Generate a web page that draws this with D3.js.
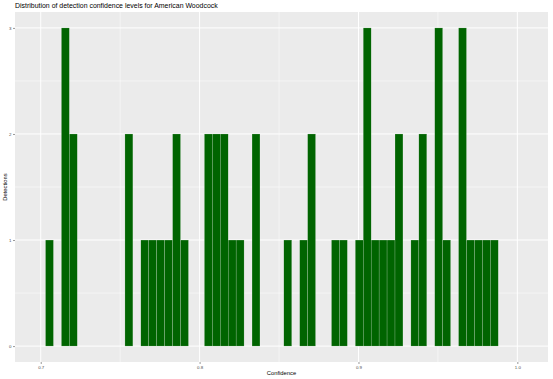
<!DOCTYPE html>
<html>
<head>
<meta charset="utf-8">
<script src="https://cdn.jsdelivr.net/npm/d3@7/dist/d3.min.js"></script>
<style>
html,body{margin:0;padding:0;background:#fff;}
svg{display:block;font-family:"Liberation Sans",Arial,sans-serif;}
</style>
</head>
<body>
<svg id="chart" width="553" height="379"></svg>
<script>
const binStarts = [0.703,0.713,0.718,0.753,0.763,0.768,0.773,0.778,0.783,0.788,
  0.803,0.808,0.813,0.818,0.823,0.833,0.853,0.863,0.868,0.883,0.888,
  0.898,0.903,0.908,0.913,0.918,0.923,0.933,0.938,0.948,0.953,
  0.963,0.968,0.973,0.978,0.983];
const counts = [1,3,2,2,1,1,1,1,2,1,
  2,2,2,1,1,2,1,1,2,1,1,
  1,3,1,1,1,2,1,2,3,1,
  3,1,1,1,1];
const binWidth = 0.005;
const xTicks = [0.7, 0.8, 0.9, 1.0];
const xMinor = [0.75, 0.85, 0.95];
const yTicks = [0, 1, 2, 3];
const yMinor = [0.5, 1.5, 2.5];
const titleText = "Distribution of detection confidence levels for American Woodcock";
const xTitle = "Confidence";
const yTitle = "Detections";

const svg = d3.select("#chart");
const panel = {left: 15, top: 12, right: 548, bottom: 362};

const x = d3.scaleLinear().domain([0.6838, 1.0193]).range([panel.left, panel.right]);
const y = d3.scaleLinear().domain([-0.15, 3.15]).range([panel.bottom, panel.top]);

svg.append("rect").attr("x", panel.left).attr("y", panel.top)
  .attr("width", panel.right - panel.left).attr("height", panel.bottom - panel.top)
  .attr("fill", "#EBEBEB");

const grid = svg.append("g");
grid.selectAll(".xm").data(xMinor).join("line")
  .attr("x1", d => x(d)).attr("x2", d => x(d)).attr("y1", panel.top).attr("y2", panel.bottom)
  .attr("stroke", "#fff").attr("stroke-width", 0.5);
grid.selectAll(".ym").data(yMinor).join("line")
  .attr("y1", d => y(d)).attr("y2", d => y(d)).attr("x1", panel.left).attr("x2", panel.right)
  .attr("stroke", "#fff").attr("stroke-width", 0.5);
grid.selectAll(".xM").data(xTicks).join("line")
  .attr("x1", d => x(d)).attr("x2", d => x(d)).attr("y1", panel.top).attr("y2", panel.bottom)
  .attr("stroke", "#fff").attr("stroke-width", 1);
grid.selectAll(".yM").data(yTicks).join("line")
  .attr("y1", d => y(d)).attr("y2", d => y(d)).attr("x1", panel.left).attr("x2", panel.right)
  .attr("stroke", "#fff").attr("stroke-width", 1);

const bins = binStarts.map((s, i) => ({x0: s, x1: s + binWidth, n: counts[i]}));
svg.append("g").selectAll("rect").data(bins).join("rect")
  .attr("x", d => x(d.x0)).attr("width", d => x(d.x1) - x(d.x0))
  .attr("y", d => y(d.n)).attr("height", d => y(0) - y(d.n))
  .attr("fill", "#006400").attr("stroke", "#ffffff").attr("stroke-opacity", 0.45)
  .attr("stroke-width", 0.4);

const xAxis = svg.append("g").attr("transform", `translate(0,${panel.bottom})`)
  .call(d3.axisBottom(x).tickValues(xTicks).tickFormat(d3.format(".1f")).tickSize(2).tickPadding(1.5));
const yAxis = svg.append("g").attr("transform", `translate(${panel.left},0)`)
  .call(d3.axisLeft(y).tickValues(yTicks).tickFormat(d3.format("d")).tickSize(2).tickPadding(1.5));
[xAxis, yAxis].forEach(a => {
  a.select(".domain").remove();
  a.selectAll(".tick line").attr("stroke", "#333").attr("stroke-width", 0.5);
  a.selectAll(".tick text").attr("fill", "#4d4d4d").style("font-size", "4.4px")
    .style("font-family", "'Liberation Sans', Arial, sans-serif");
});

svg.append("text").attr("x", (panel.left + panel.right) / 2).attr("y", 374.5)
  .attr("text-anchor", "middle").style("font-size", "5.8px").attr("fill", "#000").text(xTitle);
svg.append("text").attr("transform", `translate(6.5,${(panel.top + panel.bottom) / 2}) rotate(-90)`)
  .attr("text-anchor", "middle").style("font-size", "5.8px").attr("fill", "#000").text(yTitle);
svg.append("text").attr("x", panel.left).attr("y", 8.2)
  .style("font-size", "6.95px").attr("fill", "#000").text(titleText);
</script>
</body>
</html>
